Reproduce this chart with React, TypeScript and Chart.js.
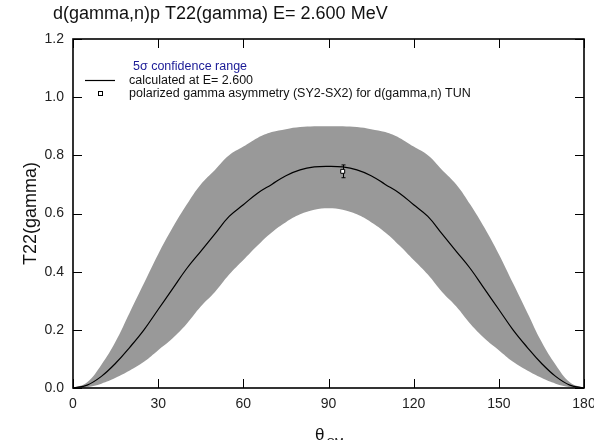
import React, { useEffect, useRef } from "react";
import { Chart, registerables } from "chart.js";

Chart.register(...registerables);

const thetas = [0,5,10,15,20,25,30,35,40,45,50,55,60,65,70,75,80,85,90,95,100,105,110,115,120,125,130,135,140,145,150,155,160,165,170,175,180];
const calcValues = [0,0.01,0.04,0.085,0.14,0.2,0.27,0.34,0.41,0.47,0.53,0.59,0.63,0.67,0.7,0.73,0.75,0.76,0.762,0.76,0.75,0.73,0.7,0.67,0.63,0.59,0.53,0.47,0.41,0.34,0.27,0.2,0.14,0.085,0.04,0.01,0];
const upperValues = [0,0.02,0.08,0.16,0.26,0.36,0.46,0.55,0.63,0.7,0.75,0.8,0.83,0.86,0.88,0.89,0.897,0.9,0.9,0.9,0.897,0.89,0.88,0.86,0.83,0.8,0.75,0.7,0.63,0.55,0.46,0.36,0.26,0.16,0.08,0.02,0];
const lowerValues = [0,0.003,0.015,0.035,0.06,0.09,0.13,0.17,0.22,0.28,0.33,0.39,0.44,0.49,0.535,0.57,0.597,0.613,0.618,0.613,0.597,0.57,0.535,0.49,0.44,0.39,0.33,0.28,0.22,0.17,0.13,0.09,0.06,0.035,0.015,0.003,0];
const expTheta = [95];
const expValues = [0.745];
const expErrors = [0.022];
const xTicks = [0, 30, 60, 90, 120, 150, 180];
const yTicks = [0, 0.2, 0.4, 0.6, 0.8, 1.0, 1.2];

const titleText = "d(gamma,n)p T22(gamma) E= 2.600 MeV";
const legendTexts = ["5\u03c3 confidence range", "calculated at E= 2.600", "polarized gamma asymmetry (SY2-SX2) for d(gamma,n) TUN"];
const yTitle = "T22(gamma)";
const xTitle = "\u03b8";
const xTitleSub = "CM";

const FONT = '"Liberation Sans", Arial, Helvetica, sans-serif';

const decorPlugin = {
  id: "decor",
  beforeDatasetDraw(chart: any, args: any) {
    if (args.index !== 3) return;
    const ctx = chart.ctx;
    const xs = chart.scales.x;
    const ys = chart.scales.y;
    ctx.save();
    ctx.strokeStyle = "#000";
    ctx.lineWidth = 1;
    for (let i = 0; i < expTheta.length; i++) {
      const px = Math.round(xs.getPixelForValue(expTheta[i])) + 0.5;
      const y1 = ys.getPixelForValue(expValues[i] + expErrors[i]);
      const y2 = ys.getPixelForValue(expValues[i] - expErrors[i]);
      ctx.beginPath();
      ctx.moveTo(px, y1); ctx.lineTo(px, y2);
      ctx.moveTo(px - 2, y1); ctx.lineTo(px + 2, y1);
      ctx.moveTo(px - 2, y2); ctx.lineTo(px + 2, y2);
      ctx.stroke();
    }
    ctx.restore();
  },
  afterDraw(chart: any) {
    const ctx = chart.ctx;
    const a = chart.chartArea;
    const xs = chart.scales.x;
    const ys = chart.scales.y;
    ctx.save();
    ctx.strokeStyle = "#000";
    ctx.lineWidth = 1.6;
    ctx.strokeRect(a.left, a.top, a.right - a.left, a.bottom - a.top);
    ctx.lineWidth = 1;
    const tl = 9;
    ctx.beginPath();
    xTicks.forEach((v) => {
      const px = Math.round(xs.getPixelForValue(v)) + 0.5;
      ctx.moveTo(px, a.bottom); ctx.lineTo(px, a.bottom - tl);
      ctx.moveTo(px, a.top); ctx.lineTo(px, a.top + tl);
    });
    yTicks.forEach((v) => {
      const py = Math.round(ys.getPixelForValue(v)) + 0.5;
      ctx.moveTo(a.left, py); ctx.lineTo(a.left + tl, py);
      ctx.moveTo(a.right, py); ctx.lineTo(a.right - tl, py);
    });
    ctx.stroke();

    // title
    ctx.fillStyle = "#111";
    ctx.font = "18px " + FONT;
    ctx.textAlign = "left";
    ctx.textBaseline = "alphabetic";
    ctx.fillText(titleText, 53, 19);

    // legend
    ctx.font = "12.5px " + FONT;
    ctx.textBaseline = "middle";
    ctx.fillStyle = "#1a1a96";
    ctx.fillText(legendTexts[0], 133, 67);
    ctx.fillStyle = "#111";
    ctx.fillText(legendTexts[1], 129, 81);
    ctx.fillText(legendTexts[2], 129, 94);
    ctx.strokeStyle = "#000";
    ctx.lineWidth = 1.2;
    ctx.beginPath();
    ctx.moveTo(85, 80.5); ctx.lineTo(115, 80.5);
    ctx.stroke();
    ctx.fillStyle = "#fff";
    ctx.lineWidth = 1;
    ctx.fillRect(98, 91, 5, 5);
    ctx.strokeRect(98.5, 91.5, 4, 4);

    // y title
    ctx.fillStyle = "#111";
    ctx.font = "18px " + FONT;
    ctx.save();
    ctx.translate(36, (a.top + a.bottom) / 2);
    ctx.rotate(-Math.PI / 2);
    ctx.textAlign = "center";
    ctx.textBaseline = "alphabetic";
    ctx.fillText(yTitle, 0, 0);
    ctx.restore();

    // x title
    ctx.textAlign = "left";
    ctx.textBaseline = "alphabetic";
    ctx.font = "17px " + FONT;
    ctx.fillText(xTitle, 315, 440);
    const w = ctx.measureText(xTitle).width;
    ctx.font = "11px " + FONT;
    ctx.fillText(xTitleSub, 315 + w + 2, 446);
    ctx.restore();
  },
};

export default function App() {
  const ref = useRef<HTMLCanvasElement | null>(null);
  useEffect(() => {
    if (!ref.current) return;
    const chart = new Chart(ref.current, {
      type: "line",
      data: {
        datasets: [
          {
            label: "lower",
            data: thetas.map((t, i) => ({ x: t, y: lowerValues[i] })),
            borderWidth: 0,
            borderColor: "rgba(0,0,0,0)",
            pointRadius: 0,
            fill: false,
            tension: 0.4,
            order: 3,
          },
          {
            label: "5\u03c3 confidence range",
            data: thetas.map((t, i) => ({ x: t, y: upperValues[i] })),
            borderWidth: 0,
            borderColor: "rgba(0,0,0,0)",
            backgroundColor: "rgb(153,153,153)",
            pointRadius: 0,
            fill: "-1",
            tension: 0.4,
            order: 2,
          },
          {
            label: "calculated at E= 2.600",
            data: thetas.map((t, i) => ({ x: t, y: calcValues[i] })),
            borderWidth: 1.2,
            borderColor: "#000",
            pointRadius: 0,
            fill: false,
            tension: 0.4,
            order: 1,
          },
          {
            label: "polarized gamma asymmetry",
            data: expTheta.map((t, i) => ({ x: t, y: expValues[i] })),
            showLine: false,
            pointStyle: "rect",
            pointRadius: 2.8,
            backgroundColor: "#fff",
            borderColor: "#000",
            borderWidth: 1,
            fill: false,
            order: 0,
          },
        ],
      } as any,
      options: {
        animation: false,
        responsive: false,
        layout: { padding: { top: 39, right: 10, left: 0, bottom: 22 } },
        plugins: { legend: { display: false }, title: { display: false }, tooltip: { enabled: false } },
        scales: {
          x: {
            type: "linear",
            min: 0,
            max: 180,
            afterFit: (s: any) => { s.height = 30; s.paddingLeft = 0; s.paddingRight = 0; },
            afterBuildTicks: (s: any) => { s.ticks = xTicks.map((v) => ({ value: v })); },
            grid: { display: false, drawTicks: false },
            border: { display: false },
            ticks: { padding: 8, color: "#222", font: { family: FONT, size: 14 }, maxRotation: 0 },
          },
          y: {
            type: "linear",
            min: 0,
            max: 1.2,
            afterFit: (s: any) => { s.width = 73; s.paddingTop = 0; s.paddingBottom = 0; },
            afterBuildTicks: (s: any) => { s.ticks = yTicks.map((v) => ({ value: v })); },
            grid: { display: false, drawTicks: false },
            border: { display: false },
            ticks: { padding: 9, color: "#222", font: { family: FONT, size: 14 }, callback: (v: any) => Number(v).toFixed(1) },
          },
        },
      } as any,
      plugins: [decorPlugin],
    });
    return () => chart.destroy();
  }, []);
  return (
    <div style={{ position: "absolute", left: 0, top: 0, width: 594, height: 440 }}>
      <canvas ref={ref} width={594} height={440} />
    </div>
  );
}
